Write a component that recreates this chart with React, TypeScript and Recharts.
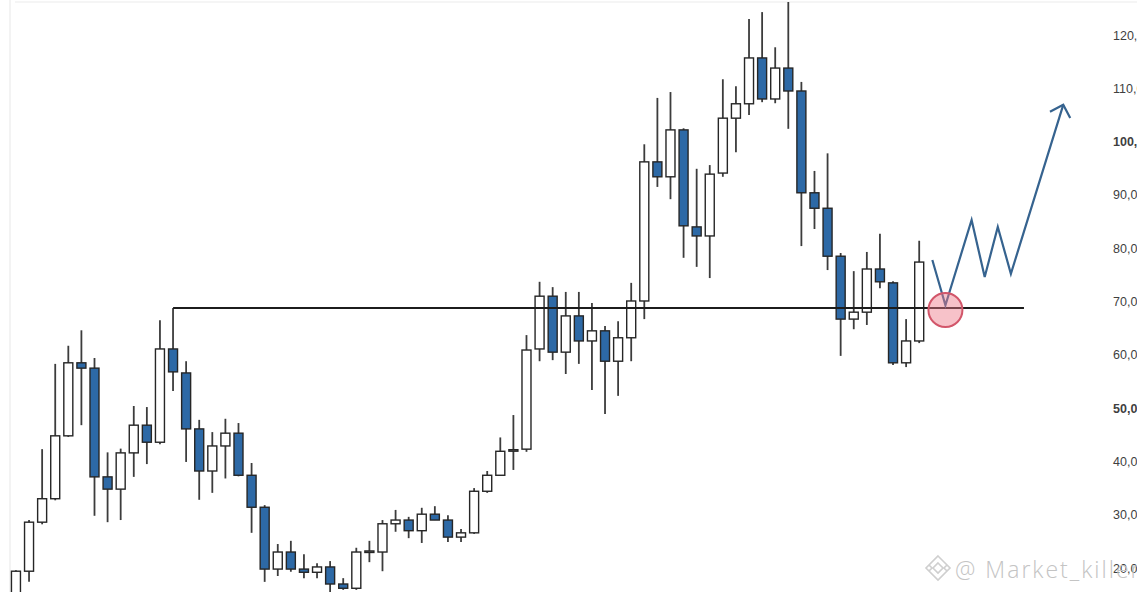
import React from 'react';
import { ComposedChart, Bar, Line, XAxis, YAxis, ReferenceLine, ReferenceDot } from 'recharts';

// candle values (thousands)
const opens = [
  14.0, 19.4, 28.6, 33.0, 44.8, 58.5, 57.5, 37.1, 34.8, 41.6,
  46.8, 43.6, 61.1, 56.6, 46.1, 38.2, 42.9, 45.3, 37.4, 31.4,
  19.8, 23.0, 19.8, 19.2, 20.2, 17.0, 16.2, 23.1, 23.0, 28.3,
  29.0, 27.0, 30.1, 29.0, 25.8, 26.6, 34.4, 37.4, 42.0, 42.3,
  61.1, 71.0, 60.5, 67.3, 62.6, 64.5, 58.8, 63.2, 70.1, 96.2,
  93.4, 102.2, 84.0, 82.3, 94.1, 104.4, 107.1, 115.7, 108.0, 113.8,
  109.5, 90.4, 87.5, 78.5, 66.7, 68.0, 76.1, 73.5, 58.5, 62.6,
];
const highs = [
  19.6, 29.0, 42.3, 58.3, 61.7, 64.6, 59.4, 41.7, 42.4, 50.4,
  50.2, 66.5, 68.8, 58.8, 47.8, 45.5, 48.0, 47.2, 39.7, 31.8,
  24.5, 25.1, 22.6, 20.9, 21.3, 18.1, 23.8, 25.1, 29.0, 30.9,
  29.6, 31.3, 31.6, 29.9, 27.3, 35.0, 38.2, 44.5, 48.7, 63.7,
  73.7, 72.7, 71.8, 71.8, 69.7, 65.4, 66.3, 73.5, 99.5, 108.2,
  109.3, 102.5, 94.9, 95.6, 111.7, 110.4, 123.0, 124.3, 117.7, 126.2,
  111.2, 94.5, 97.8, 79.1, 75.7, 79.3, 82.7, 73.8, 66.7, 81.4,
];
const lows = [
  13.5, 17.4, 28.2, 32.7, 44.6, 46.8, 29.8, 28.6, 29.0, 37.1,
  39.5, 43.2, 53.2, 39.9, 32.8, 34.1, 36.8, 37.2, 26.6, 17.4,
  18.5, 19.3, 18.1, 18.1, 15.0, 15.9, 15.9, 21.1, 19.4, 26.8,
  25.6, 24.7, 29.0, 24.9, 24.9, 26.4, 34.1, 37.4, 38.4, 41.8,
  58.8, 59.0, 56.4, 58.3, 53.4, 48.9, 52.3, 58.8, 66.7, 91.5,
  89.2, 78.2, 76.5, 74.4, 93.4, 98.0, 105.0, 107.4, 107.2, 102.4,
  80.4, 83.6, 75.9, 59.8, 64.8, 65.6, 72.5, 58.1, 57.7, 62.2,
];
const closes = [
  19.4, 28.6, 33.0, 44.8, 58.5, 57.5, 37.1, 34.8, 41.6, 46.8,
  43.6, 61.1, 56.8, 46.1, 38.2, 42.9, 45.3, 37.4, 31.4, 19.8,
  23.0, 19.8, 19.2, 20.2, 17.0, 16.2, 23.0, 23.2, 28.3, 29.0,
  27.0, 30.1, 29.0, 25.8, 26.6, 34.4, 37.4, 41.9, 42.2, 60.9,
  71.0, 60.5, 67.3, 62.6, 64.5, 58.8, 63.2, 70.1, 96.2, 93.4,
  102.2, 84.2, 82.3, 93.9, 104.4, 107.1, 115.7, 108.0, 113.8, 109.5,
  90.4, 87.5, 78.5, 66.7, 68.0, 76.1, 73.7, 58.5, 62.6, 77.4,
];

// projected path
const projIndex = [70, 71, 73, 74, 75, 76, 80];
const projValues = [77.8, 69.3, 85.3, 74.6, 84.0, 75.2, 106.9];

// support level and touch point
const levelValue = 68.8;
const levelStart = 12;
const levelEnd = 77;
const touchIndex = 71;
const touchValue = 68.4;

const yTicks = [20, 30, 40, 50, 60, 70, 80, 90, 100, 110, 120];
const boldTicks = [50, 100];

const TOTAL = 81;
const data = Array.from({ length: TOTAL }, (_, i) => {
  const p = projIndex.indexOf(i);
  return {
    i,
    open: i < opens.length ? opens[i] : null,
    high: i < opens.length ? highs[i] : null,
    low: i < opens.length ? lows[i] : null,
    close: i < opens.length ? closes[i] : null,
    proj: p >= 0 ? projValues[p] : null,
  };
});

const BLUE = '#2d69a6';

const Candle = (props: any) => {
  const { x, y, width, height, payload } = props;
  if (!payload || payload.open == null || !isFinite(y) || !isFinite(height)) return null;
  const { open, close, high, low } = payload;
  const px = (v: number) => y + ((high - v) / (high - low)) * height;
  const cx = x + width / 2;
  const top = px(Math.max(open, close));
  const bot = px(Math.min(open, close));
  const up = close >= open;
  return (
    <g>
      <line x1={cx} x2={cx} y1={y} y2={y + height} stroke="#3c3c3c" strokeWidth={1.8} />
      <rect
        x={x}
        y={top}
        width={width}
        height={Math.max(bot - top, 1.5)}
        fill={up ? '#ffffff' : BLUE}
        stroke="#262626"
        strokeWidth={1.4}
      />
    </g>
  );
};

const YTick = (props: any) => {
  const { x, y, payload } = props;
  const v = payload.value;
  return (
    <text
      x={x}
      y={y}
      dy={4.5}
      textAnchor="start"
      fontSize={12.5}
      fontFamily="'Liberation Sans', Arial, sans-serif"
      fontWeight={boldTicks.includes(v) ? 700 : 400}
      fill="#3f3f3f"
    >
      {`${v},000.00`}
    </text>
  );
};

export default function App() {
  return (
    <div style={{ position: 'absolute', left: 0, top: 0, width: 1137, height: 592, background: '#fff', overflow: 'hidden' }}>
      <div style={{ position: 'absolute', left: 9, top: 0, width: 2, height: 592, background: '#f3f3f3' }} />
      <div style={{ position: 'absolute', left: 15, top: 1, width: 1122, height: 2, background: '#f5f5f5' }} />
      <ComposedChart
        width={1137}
        height={592}
        data={data}
        margin={{ top: 0, right: 0, bottom: 0, left: 0 }}
        style={{ position: 'absolute', left: 0, top: 0 }}
      >
        <defs>
          <marker
            id="arrowHead"
            markerUnits="userSpaceOnUse"
            viewBox="-13 -13 26 26"
            markerWidth={26}
            markerHeight={26}
            refX={0}
            refY={0}
            orient="auto"
          >
            <path d="M -10.6 -10.6 L 0 0 L -10.6 10.6" fill="none" stroke="#36638f" strokeWidth={2.2} />
          </marker>
        </defs>
        <XAxis dataKey="i" type="number" domain={[-1.222, 81.28]} allowDataOverflow hide />
        <YAxis
          orientation="right"
          type="number"
          domain={[15.5, 126.57]}
          allowDataOverflow
          ticks={yTicks}
          width={57}
          axisLine={false}
          tickLine={false}
          tickSize={6}
          tickMargin={27}
          tick={<YTick />}
          interval={0}
        />
        <Bar
          dataKey={(d: any) => (d.low != null ? [d.low, d.high] : null)}
          barSize={9}
          shape={<Candle />}
          isAnimationActive={false}
        />
        <ReferenceLine
          segment={[
            { x: levelStart, y: levelValue },
            { x: levelEnd, y: levelValue },
          ]}
          stroke="#1c1c1c"
          strokeWidth={2}
          ifOverflow="visible"
        />
        <Line
          dataKey="proj"
          type="linear"
          connectNulls
          dot={false}
          stroke="#36638f"
          strokeWidth={2.2}
          markerEnd="url(#arrowHead)"
          isAnimationActive={false}
        />
        <ReferenceDot
          x={touchIndex}
          y={touchValue}
          r={17}
          fill="rgba(238,120,135,0.45)"
          stroke="#d2566a"
          strokeWidth={2}
          ifOverflow="visible"
        />
      </ComposedChart>
      <svg width={1137} height={592} style={{ position: 'absolute', left: 0, top: 0, pointerEvents: 'none' }}>
        <g fill="none" stroke="#cfcfcf" strokeWidth={1.6}>
          <path d="M 938 556 L 950 568 L 938 580 L 926 568 Z" />
          <path d="M 938 563 L 943 568 L 938 573 L 933 568 Z" />
          <path d="M 929 565 L 932 568 L 929 571" />
          <path d="M 947 565 L 944 568 L 947 571" />
        </g>
        <text
          x={955}
          y={578}
          fontSize={23}
          fontFamily="'Open Sans', 'Liberation Sans', sans-serif"
          fontWeight={300}
          letterSpacing={2}
          fill="#c4c4c4"
        >
          @ Market_killer
        </text>
      </svg>
    </div>
  );
}
